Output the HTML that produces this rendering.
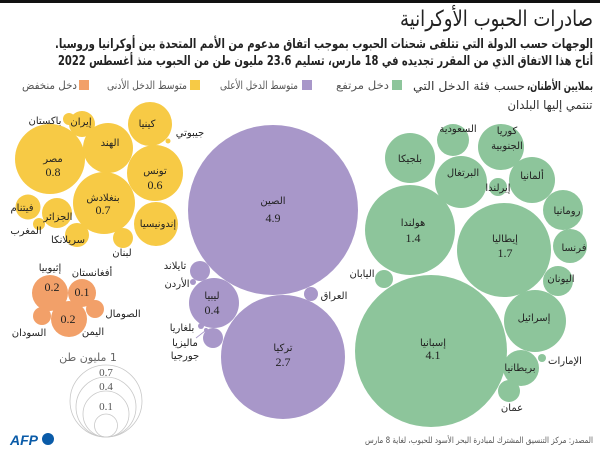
<!DOCTYPE html>
<html><head><meta charset="utf-8"><style>
html,body{margin:0;padding:0;background:#fff;}
svg{display:block;}
.ar{font-family:"DejaVu Sans","Liberation Sans",sans-serif;direction:rtl;unicode-bidi:embed;}
.lb{font-family:"DejaVu Sans","Liberation Sans",sans-serif;font-size:10px;fill:#222;direction:rtl;unicode-bidi:embed;}
.nm{font-family:"Liberation Serif",serif;font-size:12px;fill:#222;}
</style></head><body>
<svg width="600" height="451" viewBox="0 0 600 451" xmlns="http://www.w3.org/2000/svg">
<rect x="0" y="0" width="600" height="3" fill="#111"/>
<!-- header -->
<text class="ar" direction="rtl" x="496.5" y="26" font-size="22" fill="#222" text-anchor="middle" textLength="193" lengthAdjust="spacingAndGlyphs">صادرات الحبوب الأوكرانية</text>
<text class="ar" direction="rtl" x="324" y="48" font-size="13" font-weight="bold" fill="#222" text-anchor="middle" textLength="538" lengthAdjust="spacingAndGlyphs">الوجهات حسب الدولة التي تتلقى شحنات الحبوب بموجب اتفاق مدعوم من الأمم المتحدة بين أوكرانيا وروسيا.</text>
<text class="ar" direction="rtl" x="325.5" y="65" font-size="13" font-weight="bold" fill="#222" text-anchor="middle" textLength="535" lengthAdjust="spacingAndGlyphs">أتاح هذا الاتفاق الذي من المقرر تجديده في 18 مارس، تسليم 23.6 مليون طن من الحبوب منذ أغسطس 2022</text>
<text class="ar" direction="rtl" x="560" y="90" font-size="12" font-weight="bold" fill="#222" text-anchor="middle" textLength="66" lengthAdjust="spacingAndGlyphs">بملايين الأطنان،</text>
<text class="ar" direction="rtl" x="469" y="90" font-size="12" fill="#333" text-anchor="middle" textLength="112" lengthAdjust="spacingAndGlyphs">حسب فئة الدخل التي</text>
<text class="ar" direction="rtl" x="550" y="109" font-size="12" fill="#333" text-anchor="middle" textLength="85" lengthAdjust="spacingAndGlyphs">تنتمي إليها البلدان</text>
<!-- legend -->
<rect x="392" y="80" width="10" height="10" fill="#8DC59B"/>
<text class="ar" direction="rtl" x="362.5" y="89" font-size="11" fill="#555" text-anchor="middle" textLength="53" lengthAdjust="spacingAndGlyphs">دخل مرتفع</text>
<rect x="302" y="80" width="10" height="10" fill="#A897C9"/>
<text class="ar" direction="rtl" x="259" y="89" font-size="11" fill="#555" text-anchor="middle" textLength="78" lengthAdjust="spacingAndGlyphs">متوسط الدخل الأعلى</text>
<rect x="190" y="80" width="10" height="10" fill="#F7CA45"/>
<text class="ar" direction="rtl" x="147" y="89" font-size="11" fill="#555" text-anchor="middle" textLength="80" lengthAdjust="spacingAndGlyphs">متوسط الدخل الأدنى</text>
<rect x="79" y="80" width="10" height="10" fill="#F2A069"/>
<text class="ar" direction="rtl" x="49.5" y="89" font-size="11" fill="#555" text-anchor="middle" textLength="55" lengthAdjust="spacingAndGlyphs">دخل منخفض</text>

<!-- yellow cluster -->
<g fill="#F7CA45">
<circle cx="50" cy="159" r="35"/>
<circle cx="108" cy="148" r="25"/>
<circle cx="69" cy="119" r="6"/>
<circle cx="82" cy="124" r="13"/>
<circle cx="150" cy="124" r="22"/>
<circle cx="168" cy="141" r="2.5"/>
<circle cx="155" cy="173" r="28"/>
<circle cx="104" cy="203" r="31"/>
<circle cx="156" cy="224" r="22"/>
<circle cx="57" cy="213" r="15"/>
<circle cx="28" cy="207" r="12.5"/>
<circle cx="39" cy="224" r="6"/>
<circle cx="77" cy="235" r="12"/>
<circle cx="123" cy="238" r="10"/>
</g>
<!-- orange cluster -->
<g fill="#F2A069">
<circle cx="50" cy="293" r="18"/>
<circle cx="82" cy="293" r="14"/>
<circle cx="69" cy="319" r="18"/>
<circle cx="42" cy="316" r="9"/>
<circle cx="95" cy="309" r="9"/>
</g>
<!-- purple cluster -->
<g fill="#A897C9">
<circle cx="273" cy="210" r="85"/>
<circle cx="283" cy="357" r="62"/>
<circle cx="214" cy="303" r="25"/>
<circle cx="200" cy="271" r="10"/>
<circle cx="193" cy="282" r="3"/>
<circle cx="311" cy="294" r="7"/>
<circle cx="213" cy="338" r="10"/>
<circle cx="201" cy="326" r="3"/>
<circle cx="206" cy="330" r="2"/>
</g>
<line x1="205" y1="331" x2="196" y2="338" stroke="#A897C9" stroke-width="0.8"/>
<!-- green cluster -->
<g fill="#8DC59B">
<circle cx="431" cy="351" r="76"/>
<circle cx="504" cy="250" r="47"/>
<circle cx="410" cy="230" r="45"/>
<circle cx="410" cy="158" r="25"/>
<circle cx="453" cy="140" r="16"/>
<circle cx="501" cy="147" r="23"/>
<circle cx="461" cy="182" r="26"/>
<circle cx="498" cy="187" r="9"/>
<circle cx="532" cy="180" r="23"/>
<circle cx="563" cy="210" r="20"/>
<circle cx="570" cy="246" r="17"/>
<circle cx="558" cy="281" r="15"/>
<circle cx="384" cy="279" r="9"/>
<circle cx="535" cy="321" r="31"/>
<circle cx="542" cy="358" r="4"/>
<circle cx="521" cy="368" r="18"/>
<circle cx="509" cy="391" r="11"/>
</g>

<g class="lb" text-anchor="middle" direction="rtl">
<text x="45" y="124">باكستان</text>
<text x="81" y="125">إيران</text>
<text x="110" y="146">الهند</text>
<text x="147" y="127">كينيا</text>
<text x="190" y="136">جيبوتي</text>
<text x="53" y="162">مصر</text>
<text x="155" y="174">تونس</text>
<text x="103" y="201">بنغلادش</text>
<text x="158" y="227">إندونيسيا</text>
<text x="58" y="220">الجزائر</text>
<text x="22" y="211">فيتنام</text>
<text x="26" y="234">المغرب</text>
<text x="68" y="243">سريلانكا</text>
<text x="122" y="256">لبنان</text>
<text x="50" y="271">إثيوبيا</text>
<text x="92" y="276">أفغانستان</text>
<text x="123" y="317">الصومال</text>
<text x="93" y="335">اليمن</text>
<text x="29" y="336">السودان</text>
<text x="273" y="204">الصين</text>
<text x="175" y="269">تايلاند</text>
<text x="177" y="287">الأردن</text>
<text x="334" y="299">العراق</text>
<text x="212" y="299">ليبيا</text>
<text x="182" y="331">بلغاريا</text>
<text x="185" y="346">ماليزيا</text>
<text x="185" y="359">جورجيا</text>
<text x="283" y="351">تركيا</text>
<text x="458" y="132">السعودية</text>
<text x="507" y="134">كوريا</text>
<text x="507" y="149">الجنوبية</text>
<text x="410" y="162">بلجيكا</text>
<text x="463" y="176">البرتغال</text>
<text x="498" y="191">إيرلندا</text>
<text x="532" y="179">ألمانيا</text>
<text x="567" y="214">رومانيا</text>
<text x="574" y="251">فرنسا</text>
<text x="561" y="282">اليونان</text>
<text x="413" y="226">هولندا</text>
<text x="505" y="242">إيطاليا</text>
<text x="362" y="277">اليابان</text>
<text x="433" y="346">إسبانيا</text>
<text x="534" y="321">إسرائيل</text>
<text x="565" y="364">الإمارات</text>
<text x="520" y="371">بريطانيا</text>
<text x="512" y="411">عمان</text>
</g>
<g class="nm" text-anchor="middle">
<text x="53" y="176">0.8</text>
<text x="155" y="189">0.6</text>
<text x="103" y="214">0.7</text>
<text x="52" y="291">0.2</text>
<text x="82" y="296">0.1</text>
<text x="68" y="323">0.2</text>
<text x="273" y="222">4.9</text>
<text x="212" y="314">0.4</text>
<text x="283" y="366">2.7</text>
<text x="413" y="242">1.4</text>
<text x="505" y="257">1.7</text>
<text x="433" y="359">4.1</text>
</g>

<!-- size legend -->
<g fill="none" stroke="#c8c8c8" stroke-width="0.8">
<circle cx="106" cy="401" r="36"/>
<circle cx="106" cy="407" r="30"/>
<circle cx="106" cy="414" r="23"/>
<circle cx="106" cy="425.5" r="11.5"/>
</g>
<text class="ar" direction="rtl" x="88" y="361" font-size="11" fill="#666" text-anchor="middle">1 مليون طن</text>
<g font-family="Liberation Serif, serif" font-size="11" fill="#555" text-anchor="middle">
<text x="106" y="376">0.7</text>
<text x="106" y="390">0.4</text>
<text x="106" y="410">0.1</text>
</g>

<!-- AFP logo -->
<text x="10" y="445" font-family="Liberation Sans, sans-serif" font-size="14" font-weight="bold" font-style="italic" fill="#0A5BA8">AFP</text>
<circle cx="48" cy="439" r="6" fill="#0A5BA8"/>

<!-- source -->
<text class="ar" direction="rtl" x="479" y="443" font-size="8.5" fill="#555" text-anchor="middle" textLength="228" lengthAdjust="spacingAndGlyphs">المصدر: مركز التنسيق المشترك لمبادرة البحر الأسود للحبوب، لغاية 8 مارس</text>
</svg>
</body></html>
